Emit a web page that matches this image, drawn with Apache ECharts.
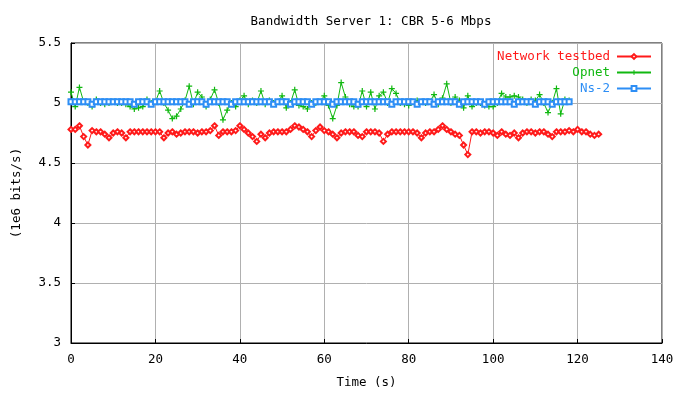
<!DOCTYPE html>
<html>
<head>
<meta charset="utf-8">
<script src="https://cdn.jsdelivr.net/npm/echarts@6/dist/echarts.min.js"></script>
<style>
  html, body { margin: 0; padding: 0; background: #fff; }
  #chart { width: 688px; height: 394px; }
</style>
</head>
<body>
<div id="chart"></div>
<script>
// Bandwidth samples, one per second (units of 1e6 bits/s)
const testbed = [
  4.78, 4.78, 4.81, 4.72, 4.65, 4.77, 4.76, 4.76, 4.74, 4.71,
  4.75, 4.76, 4.75, 4.71, 4.76, 4.76, 4.76, 4.76, 4.76, 4.76,
  4.76, 4.76, 4.71, 4.75, 4.76, 4.74, 4.75, 4.76, 4.76, 4.76,
  4.75, 4.76, 4.76, 4.77, 4.81, 4.73, 4.76, 4.76, 4.76, 4.77,
  4.81, 4.78, 4.75, 4.72, 4.68, 4.74, 4.71, 4.75, 4.76, 4.76,
  4.76, 4.76, 4.78, 4.81, 4.80, 4.78, 4.76, 4.72, 4.77, 4.80,
  4.77, 4.76, 4.74, 4.71, 4.75, 4.76, 4.76, 4.76, 4.73, 4.72,
  4.76, 4.76, 4.76, 4.75, 4.68, 4.74, 4.76, 4.76, 4.76, 4.76,
  4.76, 4.76, 4.75, 4.71, 4.75, 4.76, 4.76, 4.78, 4.81, 4.78,
  4.76, 4.74, 4.73, 4.65, 4.57, 4.76, 4.76, 4.75, 4.76, 4.76,
  4.75, 4.73, 4.76, 4.74, 4.73, 4.75, 4.71, 4.75, 4.76, 4.76,
  4.75, 4.76, 4.76, 4.74, 4.72, 4.76, 4.76, 4.76, 4.77, 4.76,
  4.78, 4.76, 4.76, 4.74, 4.73, 4.74
];
const opnet = [
  5.09, 4.97, 5.13, 5.01, 5.00, 4.97, 5.03, 5.00, 4.99, 5.00,
  5.01, 5.00, 5.00, 4.99, 4.97, 4.95, 4.96, 4.97, 5.03, 5.00,
  5.01, 5.10, 5.00, 4.94, 4.87, 4.89, 4.95, 5.02, 5.14, 4.99,
  5.09, 5.05, 4.97, 5.03, 5.11, 5.00, 4.86, 4.94, 5.00, 4.97,
  5.02, 5.06, 4.99, 5.02, 5.00, 5.10, 4.99, 5.02, 5.00, 5.01,
  5.06, 4.96, 5.00, 5.11, 4.98, 4.97, 4.95, 5.00, 5.00, 5.01,
  5.06, 4.98, 4.87, 4.98, 5.17, 5.05, 4.99, 4.97, 4.97, 5.10,
  4.97, 5.09, 4.95, 5.06, 5.09, 5.00, 5.12, 5.08, 5.00, 4.99,
  4.98, 5.01, 5.02, 5.01, 5.00, 5.01, 5.07, 4.99, 5.04, 5.16,
  5.00, 5.05, 5.02, 4.96, 5.06, 4.97, 5.00, 5.00, 4.98, 4.97,
  4.97, 5.00, 5.08, 5.05, 5.05, 5.06, 5.05, 5.03, 5.00, 5.03,
  5.02, 5.07, 5.00, 4.92, 5.00, 5.12, 4.91, 5.03, 5.02
];
const ns2 = [
  5.01, 5.01, 5.01, 5.01, 5.01, 4.99, 5.01, 5.01, 5.01, 5.01,
  5.01, 5.01, 5.01, 5.01, 5.01, 4.99, 5.01, 5.01, 5.01, 4.99,
  5.01, 5.01, 5.01, 5.01, 5.01, 5.01, 5.01, 5.01, 4.99, 5.01,
  5.01, 5.01, 4.99, 5.01, 5.01, 5.01, 5.01, 5.01, 4.99, 5.01,
  5.01, 5.01, 5.01, 5.01, 5.01, 5.01, 5.01, 5.01, 4.99, 5.01,
  5.01, 5.01, 4.99, 5.01, 5.01, 5.01, 5.01, 4.99, 5.01, 5.01,
  5.01, 5.01, 4.99, 5.01, 5.01, 5.01, 5.01, 5.01, 4.99, 5.01,
  5.01, 5.01, 5.01, 5.01, 5.01, 5.01, 4.99, 5.01, 5.01, 5.01,
  5.01, 5.01, 4.99, 5.01, 5.01, 5.01, 4.99, 5.01, 5.01, 5.01,
  5.01, 5.01, 4.99, 5.01, 5.01, 5.01, 5.01, 5.01, 4.99, 5.01,
  5.01, 5.01, 5.01, 5.01, 5.01, 4.99, 5.01, 5.01, 5.01, 5.01,
  4.99, 5.01, 5.01, 5.01, 4.99, 5.01, 5.01, 5.01, 5.01
];
const seriesNames = ['Network testbed', 'Opnet', 'Ns-2'];
const xTicks = { min: 0, max: 140, step: 20 };
const yTicks = { min: 3, max: 5.5, step: 0.5 };

const FONT = '"DejaVu Sans Mono", "Liberation Mono", monospace';
const toPairs = arr => arr.map((v, i) => [i, v]);
const plusPath = 'path://M4,0H6V4H10V6H6V10H4V6H0V4H4Z';

const colors = ['#ff1a1a', '#10b810', '#2d8ef5'];

const legendBase = (name, top, color) => ({
  data: [name],
  orient: 'vertical',
  align: 'right',
  right: 36,
  top: top,
  itemWidth: 34,
  itemHeight: 6,
  itemGap: 0,
  padding: 0,
  textStyle: { fontFamily: FONT, fontSize: 12.5, color: color, padding: [0, 2, 0, 0] }
});

const chart = echarts.init(document.getElementById('chart'), null, { renderer: 'canvas' });
chart.setOption({
  backgroundColor: '#ffffff',
  animation: false,
  title: {
    text: 'Bandwidth Server 1: CBR 5-6 Mbps',
    left: 366,
    textAlign: 'center',
    top: 10,
    textStyle: { fontFamily: FONT, fontSize: 12.5, fontWeight: 'normal', color: '#000' }
  },
  legend: [
    legendBase(seriesNames[0], 50, colors[0]),
    legendBase(seriesNames[1], 66, colors[1]),
    legendBase(seriesNames[2], 82, colors[2])
  ],
  grid: { left: 71, right: 26, top: 43, bottom: 46, show: true, borderColor: '#000', borderWidth: 1 },
  xAxis: {
    type: 'value',
    min: xTicks.min, max: xTicks.max, interval: xTicks.step,
    name: 'Time (s)',
    nameLocation: 'middle',
    nameGap: 33,
    nameTextStyle: { fontFamily: FONT, fontSize: 12.5, color: '#000' },
    axisLine: { show: true, onZero: false, lineStyle: { color: '#000', width: 1 } },
    axisTick: { show: true, inside: true, length: 4, lineStyle: { color: '#000' } },
    axisLabel: { fontFamily: FONT, fontSize: 12.5, color: '#000', margin: 10 },
    splitLine: { show: true, lineStyle: { color: '#b0b0b0', width: 1 } }
  },
  yAxis: {
    type: 'value',
    min: yTicks.min, max: yTicks.max, interval: yTicks.step,
    name: '(1e6 bits/s)',
    nameLocation: 'middle',
    nameGap: 48,
    nameRotate: 90,
    nameTextStyle: { fontFamily: FONT, fontSize: 12.5, color: '#000' },
    axisLine: { show: true, onZero: false, lineStyle: { color: '#000', width: 1 } },
    axisTick: { show: true, inside: true, length: 4, lineStyle: { color: '#000' } },
    axisLabel: { fontFamily: FONT, fontSize: 12.5, color: '#000', margin: 10 },
    splitLine: { show: true, lineStyle: { color: '#b0b0b0', width: 1 } }
  },
  series: [
    {
      name: seriesNames[0], type: 'line', data: toPairs(testbed),
      symbol: 'emptyDiamond', symbolSize: 5, showAllSymbol: true,
      itemStyle: { color: colors[0], borderWidth: 1 },
      lineStyle: { color: colors[0], width: 1 }
    },
    {
      name: seriesNames[1], type: 'line', data: toPairs(opnet),
      symbol: plusPath, symbolSize: 6, showAllSymbol: true,
      itemStyle: { color: colors[1] },
      lineStyle: { color: colors[1], width: 1 }
    },
    {
      name: seriesNames[2], type: 'line', data: toPairs(ns2),
      symbol: 'emptyRect', symbolSize: 5, showAllSymbol: true,
      itemStyle: { color: colors[2], borderWidth: 1 },
      lineStyle: { color: colors[2], width: 1 }
    }
  ]
});
</script>
</body>
</html>
